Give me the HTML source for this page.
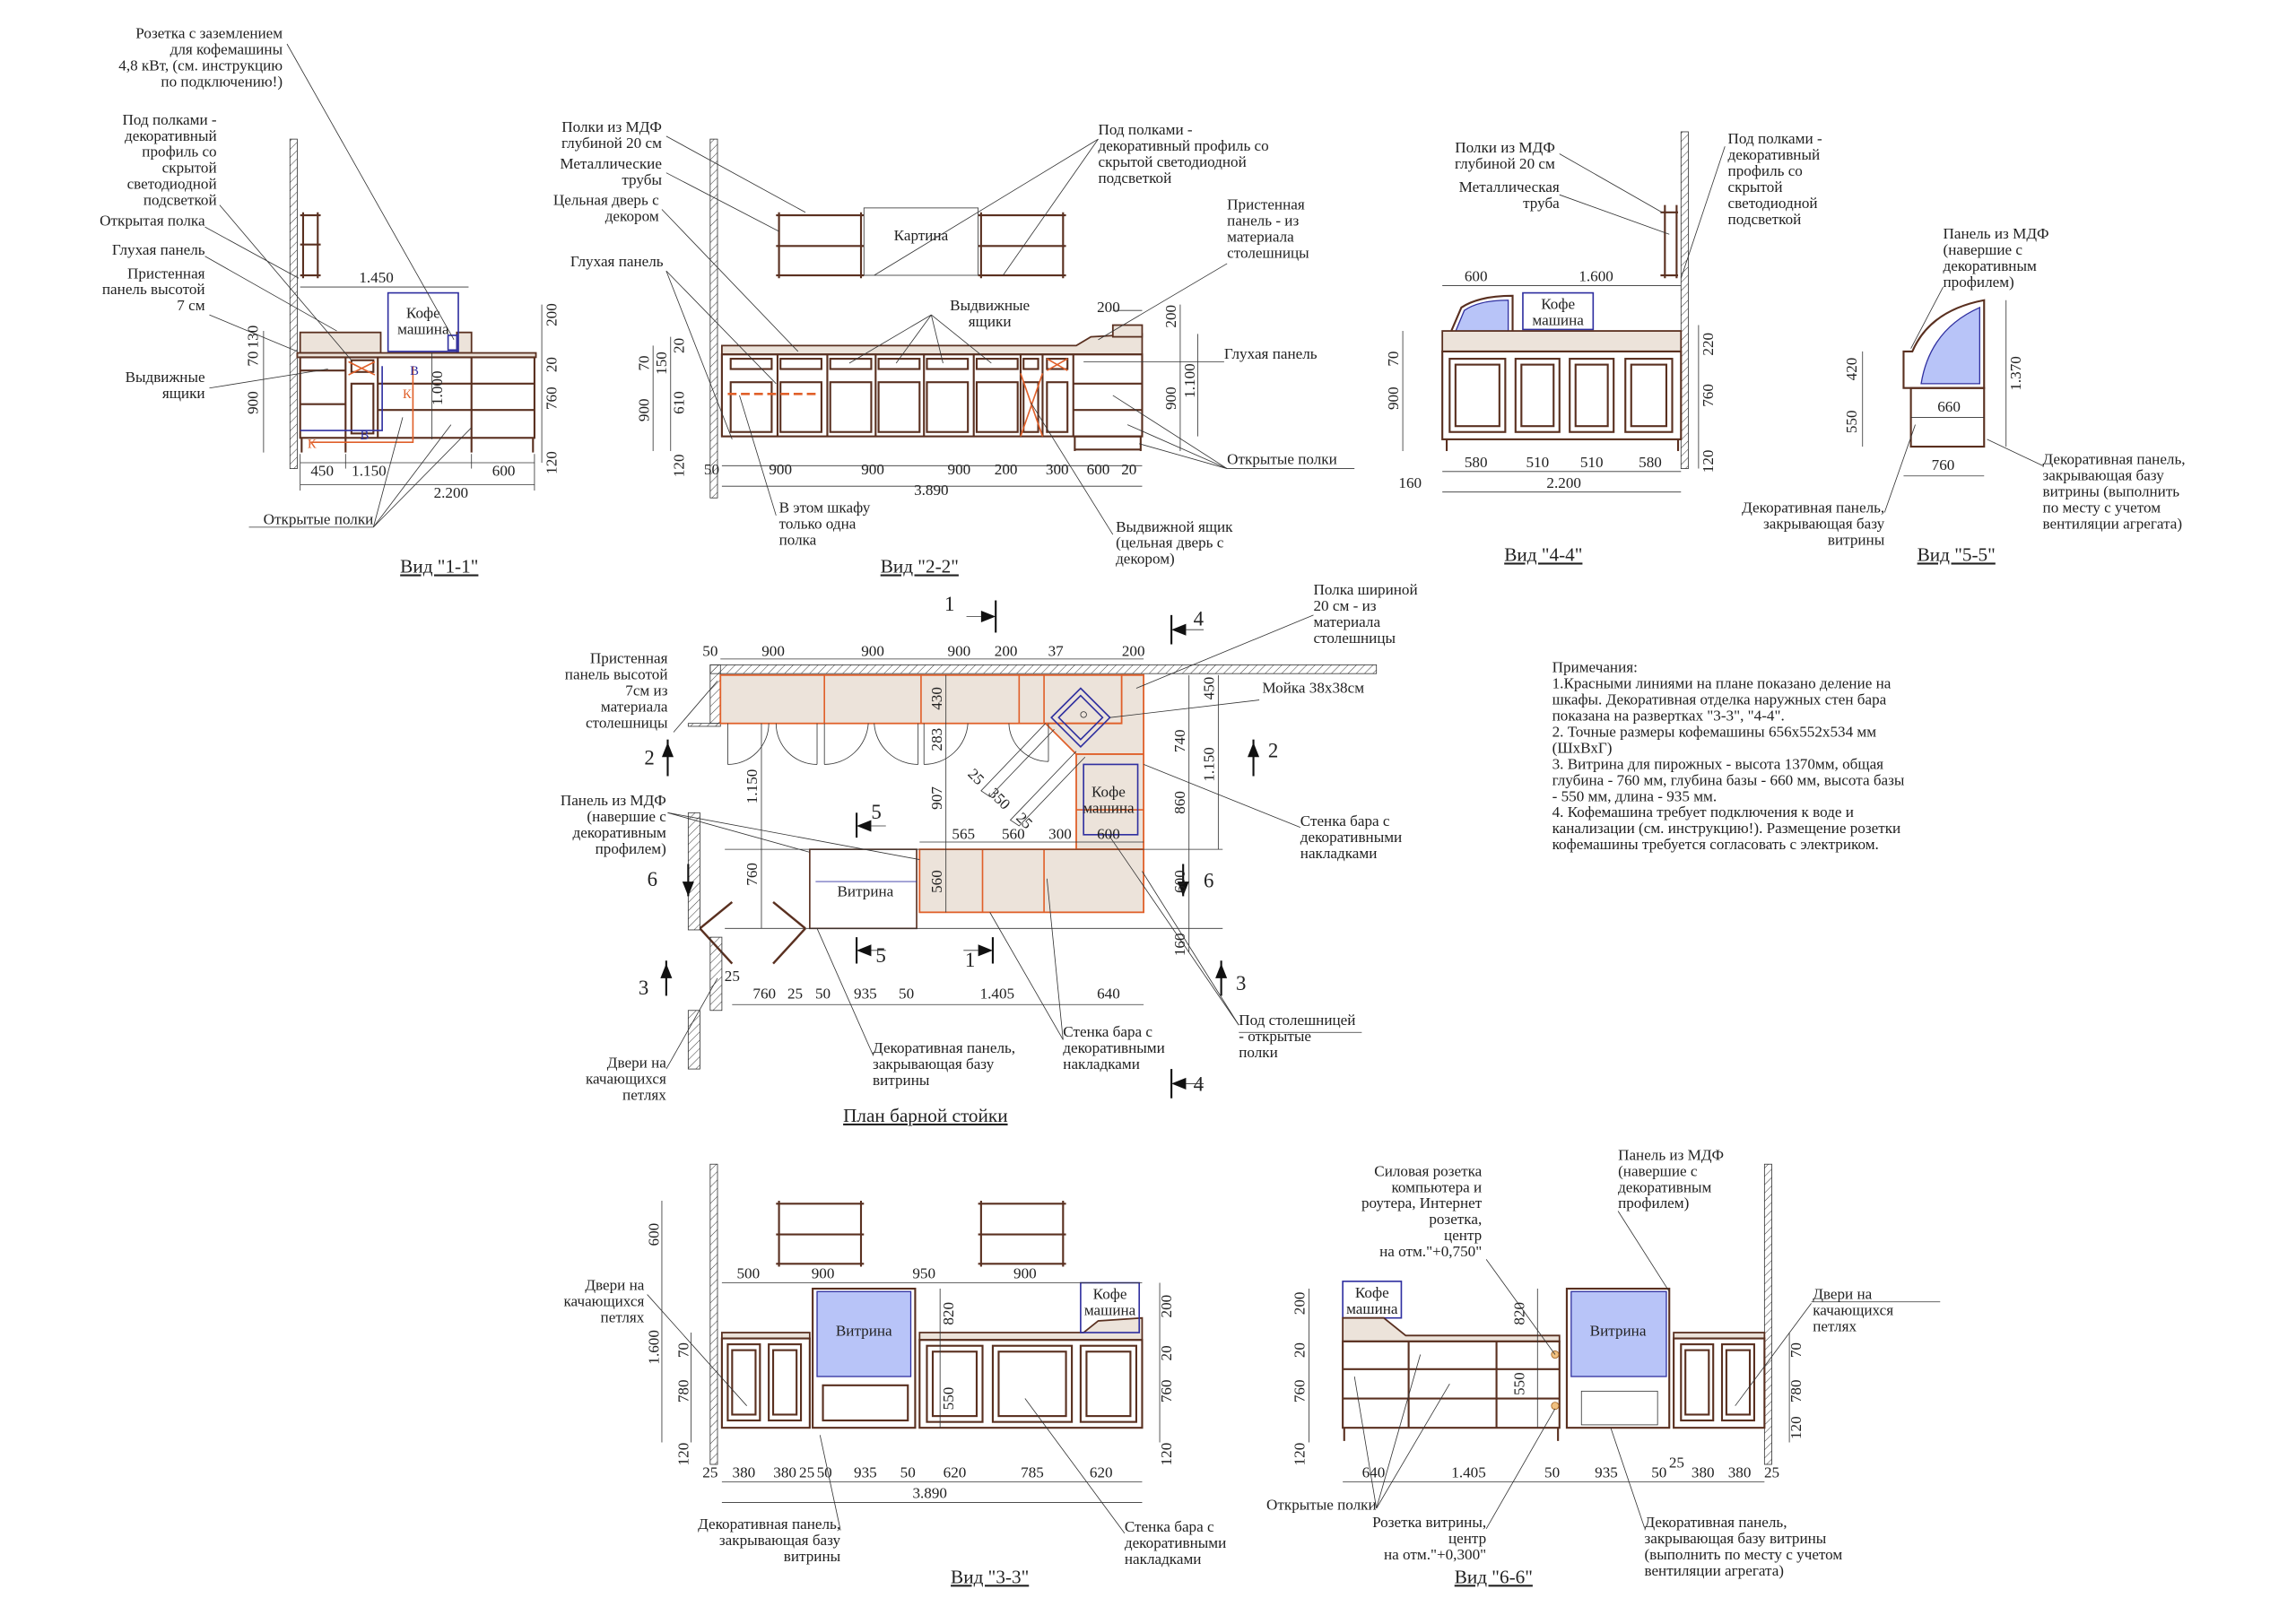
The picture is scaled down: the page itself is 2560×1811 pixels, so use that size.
<!DOCTYPE html>
<html><head><meta charset="utf-8"><style>
html,body{margin:0;padding:0;background:#fff}
svg{display:block}
text{font-family:"Liberation Serif",serif;font-size:10.5px;fill:#222}
.r{text-anchor:end}.m{text-anchor:middle}
.t{stroke:#333;stroke-width:.5;fill:none}
.b{stroke:#5a3020;stroke-width:1.3;fill:none}
.bf{stroke:#5a3020;stroke-width:1.1;fill:#ece3da}
.o{stroke:#e0602a;stroke-width:1;fill:none}
.bl{stroke:#3030a0;stroke-width:1;fill:none}
.gl{stroke:#3030a0;stroke-width:.8;fill:#b8c4f8}
.h{fill:url(#h);stroke:#333;stroke-width:.5}
.ttl{font-size:13px;text-decoration:underline}
</style></head><body>
<svg width="2560" height="1811" viewBox="0 0 1568 1109" preserveAspectRatio="none" xmlns="http://www.w3.org/2000/svg">
<defs><pattern id="h" width="4" height="4" patternUnits="userSpaceOnUse" patternTransform="rotate(45)"><line x1="0" y1="0" x2="0" y2="4" stroke="#333" stroke-width=".6"/></pattern></defs>
<rect width="1568" height="1109" fill="#fff"/>

<!-- ===== VIEW 1-1 ===== -->
<rect class="h" x="198" y="95" width="5" height="225"/>
<g class="b"><line x1="207" y1="145" x2="207" y2="190"/><line x1="217" y1="145" x2="217" y2="190"/><line x1="205" y1="147" x2="219" y2="147"/><line x1="205" y1="167" x2="219" y2="167"/><line x1="205" y1="188" x2="219" y2="188"/></g>
<rect class="bf" x="205" y="227" width="55" height="14"/>
<rect class="bf" x="312" y="227" width="10" height="14"/>
<rect class="bf" x="203" y="241" width="163" height="3"/>
<rect class="b" x="205" y="244" width="160" height="55"/>
<g class="b"><line x1="236" y1="244" x2="236" y2="299"/><line x1="258" y1="244" x2="258" y2="299"/><line x1="322" y1="244" x2="322" y2="299"/>
<line x1="205" y1="253" x2="236" y2="253"/><line x1="205" y1="276" x2="236" y2="276"/><line x1="258" y1="262" x2="365" y2="262"/><line x1="258" y1="280" x2="365" y2="280"/>
<rect x="240" y="262" width="15" height="34"/><rect x="240" y="246" width="15" height="8"/>
<line x1="206" y1="299" x2="206" y2="309"/><line x1="364" y1="299" x2="364" y2="309"/><line x1="236" y1="299" x2="236" y2="309"/><line x1="322" y1="299" x2="322" y2="309"/></g>
<rect class="bl" x="265" y="200" width="48" height="40"/>
<text class="m" x="289" y="217">Кофе</text><text class="m" x="289" y="228">машина</text>
<rect x="306" y="229" width="6" height="10" class="bl" stroke="#a030a0"/>
<g class="o"><polyline points="282,250 282,302 212,302"/><line x1="238" y1="247" x2="256" y2="256"/><line x1="256" y1="247" x2="238" y2="256"/></g>
<g class="bl"><polyline points="261,250 261,294 205,294"/></g>
<text x="280" y="256" style="fill:#3030a0;font-size:9px">В</text><text x="275" y="272" style="fill:#e0602a;font-size:9px">К</text><text x="246" y="300" style="fill:#3030a0;font-size:9px">В</text><text x="210" y="306" style="fill:#e0602a;font-size:9px">К</text>
<g class="t"><line x1="205" y1="196" x2="320" y2="196"/><line x1="205" y1="316" x2="365" y2="316"/><line x1="205" y1="331" x2="365" y2="331"/>
<line x1="205" y1="310" x2="205" y2="335"/><line x1="236" y1="310" x2="236" y2="320"/><line x1="322" y1="310" x2="322" y2="320"/><line x1="365" y1="310" x2="365" y2="335"/>
<line x1="180" y1="226" x2="180" y2="309"/><line x1="370" y1="208" x2="370" y2="316"/><line x1="295" y1="241" x2="295" y2="300"/>
<line x1="196" y1="30" x2="310" y2="232"/><line x1="150" y1="140" x2="240" y2="246"/><line x1="140" y1="155" x2="204" y2="190"/><line x1="140" y1="175" x2="230" y2="226"/><line x1="143" y1="215" x2="203" y2="240"/><line x1="143" y1="265" x2="224" y2="252"/>
<line x1="170" y1="360" x2="255" y2="360"/><line x1="255" y1="360" x2="275" y2="285"/><line x1="255" y1="360" x2="308" y2="290"/><line x1="255" y1="360" x2="322" y2="292"/></g>
<text class="m" x="257" y="193">1.450</text>
<text class="m" x="220" y="325">450</text><text class="m" x="252" y="325">1.150</text><text class="m" x="344" y="325">600</text><text class="m" x="308" y="340">2.200</text>
<g transform="rotate(-90)"><text class="m" x="-275" y="176">900</text><text class="m" x="-245" y="176">70</text><text class="m" x="-230" y="176">130</text>
<text class="m" x="-215" y="380">200</text><text class="m" x="-249" y="380">20</text><text class="m" x="-272" y="380">760</text><text class="m" x="-316" y="380">120</text><text class="m" x="-265" y="302">1.000</text></g>
<text class="r" x="193" y="26">Розетка с заземлением</text><text class="r" x="193" y="37">для кофемашины</text><text class="r" x="193" y="48">4,8 кВт, (см. инструкцию</text><text class="r" x="193" y="59">по подключению!)</text>
<text class="r" x="148" y="85">Под полками -</text><text class="r" x="148" y="96">декоративный</text><text class="r" x="148" y="107">профиль со</text><text class="r" x="148" y="118">скрытой</text><text class="r" x="148" y="129">светодиодной</text><text class="r" x="148" y="140">подсветкой</text>
<text class="r" x="140" y="154">Открытая полка</text><text class="r" x="140" y="174">Глухая панель</text>
<text class="r" x="140" y="190">Пристенная</text><text class="r" x="140" y="201">панель высотой</text><text class="r" x="140" y="212">7 см</text>
<text class="r" x="140" y="261">Выдвижные</text><text class="r" x="140" y="272">ящики</text>
<text class="r" x="255" y="358">Открытые полки</text>
<text class="m ttl" x="300" y="391">Вид "1-1"</text>

<!-- ===== VIEW 2-2 ===== -->
<rect class="h" x="485" y="95" width="5" height="245"/>
<g class="b"><line x1="532" y1="145" x2="532" y2="190"/><line x1="588" y1="145" x2="588" y2="190"/><line x1="530" y1="147" x2="590" y2="147"/><line x1="530" y1="168" x2="590" y2="168"/><line x1="530" y1="188" x2="590" y2="188"/>
<line x1="670" y1="145" x2="670" y2="190"/><line x1="726" y1="145" x2="726" y2="190"/><line x1="668" y1="147" x2="728" y2="147"/><line x1="668" y1="168" x2="728" y2="168"/><line x1="668" y1="188" x2="728" y2="188"/></g>
<rect class="t" x="590" y="142" width="78" height="46"/><text class="m" x="629" y="164">Картина</text>
<polygon class="bf" points="493,236 735,236 745,230 780,228 780,242 493,242"/>
<rect class="bf" x="760" y="222" width="20" height="8"/>
<rect class="b" x="493" y="242" width="287" height="56"/>
<g class="b">
<line x1="531" y1="242" x2="531" y2="298"/><line x1="565" y1="242" x2="565" y2="298"/><line x1="598" y1="242" x2="598" y2="298"/><line x1="631" y1="242" x2="631" y2="298"/><line x1="665" y1="242" x2="665" y2="298"/><line x1="697" y1="242" x2="697" y2="298"/><line x1="712" y1="242" x2="712" y2="298"/><line x1="733" y1="242" x2="733" y2="298"/>
<rect x="499" y="245" width="28" height="7"/><rect x="533" y="245" width="28" height="7"/><rect x="567" y="245" width="28" height="7"/><rect x="600" y="245" width="28" height="7"/><rect x="633" y="245" width="28" height="7"/><rect x="667" y="245" width="28" height="7"/><rect x="699" y="245" width="10" height="7"/><rect x="715" y="245" width="14" height="7"/>
<rect x="499" y="261" width="28" height="34"/><rect x="533" y="261" width="28" height="34"/><rect x="567" y="261" width="28" height="34"/><rect x="600" y="261" width="28" height="34"/><rect x="633" y="261" width="28" height="34"/><rect x="667" y="261" width="28" height="34"/><rect x="699" y="261" width="10" height="34"/><rect x="715" y="261" width="14" height="34"/>
<line x1="733" y1="262" x2="780" y2="262"/><line x1="733" y1="280" x2="780" y2="280"/><line x1="733" y1="298" x2="780" y2="298"/>
<line x1="734" y1="298" x2="734" y2="308"/><line x1="779" y1="298" x2="779" y2="308"/><line x1="734" y1="307" x2="779" y2="307"/></g>
<g class="o"><line x1="497" y1="269" x2="558" y2="269" stroke-dasharray="6,3" stroke-width="1.6"/><line x1="697" y1="255" x2="712" y2="298"/><line x1="712" y1="255" x2="697" y2="298"/><line x1="715" y1="245" x2="729" y2="253"/><line x1="729" y1="245" x2="715" y2="253"/></g>
<g class="t"><line x1="493" y1="318" x2="780" y2="318"/><line x1="493" y1="332" x2="780" y2="332"/><line x1="446" y1="236" x2="446" y2="308"/><line x1="458" y1="230" x2="458" y2="308"/><line x1="806" y1="208" x2="806" y2="308"/><line x1="818" y1="228" x2="818" y2="298"/><line x1="760" y1="212" x2="780" y2="212"/>
<line x1="455" y1="93" x2="550" y2="145"/><line x1="455" y1="118" x2="532" y2="158"/><line x1="452" y1="143" x2="545" y2="240"/><line x1="455" y1="185" x2="500" y2="300"/><line x1="455" y1="185" x2="530" y2="262"/>
<line x1="750" y1="95" x2="597" y2="188"/><line x1="750" y1="95" x2="685" y2="188"/><line x1="838" y1="180" x2="750" y2="232"/><line x1="836" y1="247" x2="740" y2="247"/>
<line x1="636" y1="215" x2="580" y2="248"/><line x1="636" y1="215" x2="612" y2="248"/><line x1="636" y1="215" x2="644" y2="248"/><line x1="636" y1="215" x2="677" y2="248"/>
<line x1="838" y1="320" x2="925" y2="320"/><line x1="838" y1="320" x2="760" y2="270"/><line x1="838" y1="320" x2="770" y2="290"/><line x1="838" y1="320" x2="778" y2="303"/>
<line x1="530" y1="352" x2="505" y2="270"/><line x1="760" y1="365" x2="704" y2="275"/></g>
<text class="m" x="486" y="324">50</text><text class="m" x="533" y="324">900</text><text class="m" x="596" y="324">900</text><text class="m" x="655" y="324">900</text><text class="m" x="687" y="324">200</text><text class="m" x="722" y="324">300</text><text class="m" x="750" y="324">600</text><text class="m" x="771" y="324">20</text><text class="m" x="636" y="338">3.890</text>
<text class="m" x="757" y="213">200</text>
<g transform="rotate(-90)"><text class="m" x="-248" y="443">70</text><text class="m" x="-248" y="455">150</text><text class="m" x="-236" y="467">20</text><text class="m" x="-275" y="467">610</text><text class="m" x="-280" y="443">900</text><text class="m" x="-318" y="467">120</text>
<text class="m" x="-216" y="803">200</text><text class="m" x="-272" y="803">900</text><text class="m" x="-260" y="816">1.100</text></g>
<text class="r" x="452" y="90">Полки из МДФ</text><text class="r" x="452" y="101">глубиной 20 см</text><text class="r" x="452" y="115">Металлические</text><text class="r" x="452" y="126">трубы</text>
<text class="r" x="450" y="140">Цельная дверь с</text><text class="r" x="450" y="151">декором</text><text class="r" x="453" y="182">Глухая панель</text>
<text x="750" y="92">Под полками -</text><text x="750" y="103">декоративный профиль со</text><text x="750" y="114">скрытой светодиодной</text><text x="750" y="125">подсветкой</text>
<text x="838" y="143">Пристенная</text><text x="838" y="154">панель - из</text><text x="838" y="165">материала</text><text x="838" y="176">столешницы</text>
<text class="m" x="676" y="212">Выдвижные</text><text class="m" x="676" y="223">ящики</text>
<text x="836" y="245">Глухая панель</text><text x="838" y="317">Открытые полки</text>
<text x="532" y="350">В этом шкафу</text><text x="532" y="361">только одна</text><text x="532" y="372">полка</text>
<text x="762" y="363">Выдвижной ящик</text><text x="762" y="374">(цельная дверь с</text><text x="762" y="385">декором)</text>
<text class="m ttl" x="628" y="391">Вид "2-2"</text>

<!-- ===== VIEW 4-4 ===== -->
<rect class="h" x="1148" y="90" width="5" height="230"/>
<g class="b"><line x1="1137" y1="140" x2="1137" y2="190"/><line x1="1145" y1="140" x2="1145" y2="190"/><line x1="1134" y1="145" x2="1146" y2="145"/><line x1="1134" y1="188" x2="1146" y2="188"/></g>
<path class="gl" d="M990,236 L1000,212 Q1010,205 1030,205 L1030,236 Z"/>
<path class="b" d="M986,238 L998,210 Q1010,202 1033,202 L1033,238"/>
<rect class="bl" x="1040" y="200" width="48" height="25"/><text class="m" x="1064" y="211">Кофе</text><text class="m" x="1064" y="222">машина</text>
<rect class="bf" x="985" y="226" width="163" height="14"/>
<rect class="b" x="985" y="240" width="163" height="60"/>
<g class="b"><rect x="990" y="245" width="38" height="50"/><rect x="994" y="249" width="30" height="42"/><rect x="1035" y="245" width="30" height="50"/><rect x="1039" y="249" width="22" height="42"/><rect x="1072" y="245" width="30" height="50"/><rect x="1076" y="249" width="22" height="42"/><rect x="1110" y="245" width="32" height="50"/><rect x="1114" y="249" width="24" height="42"/><line x1="988" y1="300" x2="988" y2="308"/><line x1="1146" y1="300" x2="1146" y2="308"/></g>
<g class="t"><line x1="985" y1="195" x2="1148" y2="195"/><line x1="985" y1="322" x2="1148" y2="322"/><line x1="985" y1="336" x2="1148" y2="336"/><line x1="958" y1="226" x2="958" y2="308"/><line x1="1160" y1="222" x2="1160" y2="320"/>
<line x1="1065" y1="105" x2="1135" y2="145"/><line x1="1065" y1="133" x2="1140" y2="160"/><line x1="1178" y1="100" x2="1148" y2="190"/></g>
<text class="m" x="1008" y="192">600</text><text class="m" x="1090" y="192">1.600</text>
<text class="m" x="1008" y="319">580</text><text class="m" x="1050" y="319">510</text><text class="m" x="1087" y="319">510</text><text class="m" x="1127" y="319">580</text><text class="m" x="1068" y="333">2.200</text><text class="m" x="963" y="333">160</text>
<g transform="rotate(-90)"><text class="m" x="-245" y="955">70</text><text class="m" x="-272" y="955">900</text><text class="m" x="-235" y="1170">220</text><text class="m" x="-270" y="1170">760</text><text class="m" x="-315" y="1170">120</text></g>
<text class="r" x="1062" y="104">Полки из МДФ</text><text class="r" x="1062" y="115">глубиной 20 см</text><text class="r" x="1065" y="131">Металлическая</text><text class="r" x="1065" y="142">труба</text>
<text x="1180" y="98">Под полками -</text><text x="1180" y="109">декоративный</text><text x="1180" y="120">профиль со</text><text x="1180" y="131">скрытой</text><text x="1180" y="142">светодиодной</text><text x="1180" y="153">подсветкой</text>
<text class="m ttl" x="1054" y="383">Вид "4-4"</text>

<!-- ===== VIEW 5-5 ===== -->
<path class="gl" d="M1312,262 Q1318,225 1352,210 L1352,262 Z"/>
<path class="b" d="M1300,240 L1306,240 Q1318,212 1355,205 L1355,265 L1300,265 Z"/>
<rect class="b" x="1305" y="265" width="50" height="40"/>
<g class="t"><line x1="1272" y1="240" x2="1272" y2="305"/><line x1="1370" y1="205" x2="1370" y2="305"/><line x1="1305" y1="285" x2="1355" y2="285"/><line x1="1300" y1="325" x2="1355" y2="325"/><line x1="1327" y1="196" x2="1305" y2="238"/><line x1="1395" y1="318" x2="1357" y2="300"/><line x1="1287" y1="350" x2="1308" y2="290"/></g>
<text class="m" x="1331" y="281">660</text><text class="m" x="1327" y="321">760</text>
<g transform="rotate(-90)"><text class="m" x="-252" y="1268">420</text><text class="m" x="-288" y="1268">550</text><text class="m" x="-255" y="1380">1.370</text></g>
<text x="1327" y="163">Панель из МДФ</text><text x="1327" y="174">(навершие с</text><text x="1327" y="185">декоративным</text><text x="1327" y="196">профилем)</text>
<text x="1395" y="317">Декоративная панель,</text><text x="1395" y="328">закрывающая базу</text><text x="1395" y="339">витрины (выполнить</text><text x="1395" y="350">по месту с учетом</text><text x="1395" y="361">вентиляции агрегата)</text>
<text class="r" x="1287" y="350">Декоративная панель,</text><text class="r" x="1287" y="361">закрывающая базу</text><text class="r" x="1287" y="372">витрины</text>
<text class="m ttl" x="1336" y="383">Вид "5-5"</text>

<!-- ===== PLAN ===== -->
<rect class="h" x="485" y="454" width="455" height="6"/>
<rect class="h" x="485" y="454" width="7" height="40"/>
<rect class="h" x="470" y="494" width="22" height="2"/>
<rect class="bf" x="492" y="461" width="289" height="33" style="stroke:#e0602a"/>
<polygon class="bf" points="714,494 766,494 766,461 781,461 781,515 735,515" style="stroke:#e0602a"/>
<rect class="bf" x="735" y="515" width="46" height="65" style="stroke:#e0602a"/>
<rect class="bf" x="628" y="580" width="153" height="43" style="stroke:#e0602a"/>
<g class="o"><line x1="563" y1="461" x2="563" y2="494"/><line x1="629" y1="461" x2="629" y2="494"/><line x1="696" y1="461" x2="696" y2="494"/><line x1="713" y1="461" x2="713" y2="494"/><line x1="671" y1="580" x2="671" y2="623"/><line x1="713" y1="580" x2="713" y2="623"/><line x1="735" y1="553" x2="781" y2="553"/></g>
<rect class="bl" x="740" y="522" width="37" height="48"/>
<polygon class="bl" points="738,470 758,490 738,510 718,490"/><polygon class="bl" points="738,475 753,490 738,505 723,490"/>
<circle cx="740" cy="488" r="2" class="t"/>
<rect class="b" x="553" y="580" width="73" height="54" style="stroke-width:1"/>
<line x1="557" y1="602" x2="626" y2="602" class="bl" style="stroke-width:.6"/>
<text class="m" x="591" y="612">Витрина</text>
<text class="m" x="757" y="544">Кофе</text><text class="m" x="757" y="555">машина</text>
<g class="t">
<path d="M497,494 L497,522 M497,522 A28,28 0 0 0 525,494"/><path d="M558,494 L558,522 M558,522 A28,28 0 0 1 530,494"/>
<path d="M563,494 L563,522 M563,522 A30,30 0 0 0 593,494"/><path d="M627,494 L627,522 M627,522 A30,30 0 0 1 597,494"/>
<path d="M631,494 L631,522 M631,522 A30,30 0 0 0 661,494"/><path d="M716,494 L716,520 M716,520 A27,27 0 0 1 689,494"/>
<path d="M714,494 L670,540 L676,544 L720,498"/><path d="M735,513 L690,560 L696,564 L741,517"/>
<line x1="492" y1="450" x2="781" y2="450"/><line x1="628" y1="575" x2="781" y2="575"/><line x1="520" y1="494" x2="520" y2="580"/><line x1="520" y1="580" x2="520" y2="634"/>
<line x1="646" y1="461" x2="646" y2="623"/><line x1="812" y1="461" x2="812" y2="650"/><line x1="832" y1="461" x2="832" y2="580"/>
<line x1="500" y1="686" x2="781" y2="686"/><line x1="495" y1="580" x2="835" y2="580"/><line x1="495" y1="634" x2="835" y2="634"/>
<line x1="460" y1="500" x2="490" y2="465"/><line x1="897" y1="420" x2="776" y2="470"/><line x1="860" y1="478" x2="758" y2="490"/><line x1="888" y1="565" x2="781" y2="522"/><line x1="456" y1="555" x2="553" y2="582"/><line x1="456" y1="555" x2="628" y2="587"/>
<line x1="846" y1="700" x2="780" y2="595"/><line x1="846" y1="700" x2="757" y2="570"/><line x1="596" y1="720" x2="558" y2="634"/><line x1="726" y1="710" x2="676" y2="623"/><line x1="726" y1="710" x2="715" y2="600"/><line x1="846" y1="705" x2="930" y2="705"/>
<line x1="455" y1="730" x2="490" y2="668"/></g>
<g class="b" style="stroke-width:1.5"><line x1="478" y1="634" x2="500" y2="658"/><line x1="478" y1="634" x2="500" y2="616"/><line x1="550" y1="634" x2="528" y2="616"/><line x1="550" y1="634" x2="528" y2="658"/></g>
<rect class="h" x="470" y="555" width="8" height="80"/><rect class="h" x="485" y="640" width="8" height="50"/><rect class="h" x="470" y="690" width="8" height="40"/>
<g><text x="645" y="417" style="font-size:14px">1</text><text x="815" y="427" style="font-size:14px">4</text><text x="440" y="522" style="font-size:14px">2</text><text x="866" y="517" style="font-size:14px">2</text><text x="595" y="559" style="font-size:14px">5</text><text x="598" y="657" style="font-size:14px">5</text><text x="442" y="605" style="font-size:14px">6</text><text x="822" y="606" style="font-size:14px">6</text><text x="436" y="679" style="font-size:14px">3</text><text x="844" y="676" style="font-size:14px">3</text><text x="659" y="660" style="font-size:14px">1</text><text x="815" y="745" style="font-size:14px">4</text></g>
<g class="b" style="stroke:#111"><line x1="680" y1="410" x2="680" y2="432"/><line x1="800" y1="420" x2="800" y2="440"/><line x1="456" y1="505" x2="456" y2="530"/><line x1="856" y1="505" x2="856" y2="530"/><line x1="585" y1="555" x2="585" y2="572"/><line x1="585" y1="640" x2="585" y2="658"/><line x1="470" y1="590" x2="470" y2="612"/><line x1="808" y1="590" x2="808" y2="612"/><line x1="455" y1="656" x2="455" y2="680"/><line x1="834" y1="656" x2="834" y2="680"/><line x1="678" y1="640" x2="678" y2="658"/><line x1="800" y1="730" x2="800" y2="750"/></g>
<g fill="#111" stroke="none">
<polygon points="680,421 670,417 670,425"/><polygon points="800,430 810,426 810,434"/>
<polygon points="456,507 452,517 460,517"/><polygon points="856,507 852,517 860,517"/>
<polygon points="585,564 595,560 595,568"/><polygon points="585,649 595,645 595,653"/>
<polygon points="470,612 466,602 474,602"/><polygon points="808,612 804,602 812,602"/>
<polygon points="455,658 451,668 459,668"/><polygon points="834,658 830,668 838,668"/>
<polygon points="678,649 668,645 668,653"/><polygon points="800,740 810,736 810,744"/>
</g>
<g class="t"><line x1="660" y1="421" x2="670" y2="421"/><line x1="810" y1="430" x2="822" y2="430"/><line x1="595" y1="564" x2="605" y2="564"/><line x1="595" y1="649" x2="605" y2="649"/><line x1="658" y1="649" x2="668" y2="649"/><line x1="810" y1="740" x2="822" y2="740"/></g>
<text class="m" x="485" y="448">50</text><text class="m" x="528" y="448">900</text><text class="m" x="596" y="448">900</text><text class="m" x="655" y="448">900</text><text class="m" x="687" y="448">200</text><text class="m" x="721" y="448">37</text><text class="m" x="774" y="448">200</text>
<text class="m" x="658" y="573">565</text><text class="m" x="692" y="573">560</text><text class="m" x="724" y="573">300</text><text class="m" x="757" y="573">600</text>
<text class="m" x="522" y="682">760</text><text class="m" x="543" y="682">25</text><text class="m" x="562" y="682">50</text><text class="m" x="591" y="682">935</text><text class="m" x="619" y="682">50</text><text class="m" x="681" y="682">1.405</text><text class="m" x="757" y="682">640</text><text class="m" x="500" y="670">25</text>
<g transform="rotate(-90)"><text class="m" x="-537" y="517">1.150</text><text class="m" x="-477" y="643">430</text><text class="m" x="-505" y="643">283</text><text class="m" x="-545" y="643">907</text><text class="m" x="-602" y="643">560</text><text class="m" x="-597" y="517">760</text>
<text class="m" x="-470" y="829">450</text><text class="m" x="-506" y="809">740</text><text class="m" x="-522" y="829">1.150</text><text class="m" x="-548" y="809">860</text><text class="m" x="-602" y="809">600</text><text class="m" x="-645" y="809">160</text></g>
<g transform="rotate(45 667 530)"><text class="m" x="667" y="534">25</text></g><g transform="rotate(45 683 545)"><text class="m" x="683" y="549">350</text></g><g transform="rotate(45 700 560)"><text class="m" x="700" y="564">25</text></g>
<text class="r" x="456" y="453">Пристенная</text><text class="r" x="456" y="464">панель высотой</text><text class="r" x="456" y="475">7см из</text><text class="r" x="456" y="486">материала</text><text class="r" x="456" y="497">столешницы</text>
<text class="r" x="455" y="550">Панель из МДФ</text><text class="r" x="455" y="561">(навершие с</text><text class="r" x="455" y="572">декоративным</text><text class="r" x="455" y="583">профилем)</text>
<text class="r" x="455" y="729">Двери на</text><text class="r" x="455" y="740">качающихся</text><text class="r" x="455" y="751">петлях</text>
<text x="897" y="406">Полка шириной</text><text x="897" y="417">20 см - из</text><text x="897" y="428">материала</text><text x="897" y="439">столешницы</text>
<text x="862" y="473">Мойка 38х38см</text>
<text x="888" y="564">Стенка бара с</text><text x="888" y="575">декоративными</text><text x="888" y="586">накладками</text>
<text x="846" y="700">Под столешницей</text><text x="846" y="711">- открытые</text><text x="846" y="722">полки</text>
<text x="596" y="719">Декоративная панель,</text><text x="596" y="730">закрывающая базу</text><text x="596" y="741">витрины</text>
<text x="726" y="708">Стенка бара с</text><text x="726" y="719">декоративными</text><text x="726" y="730">накладками</text>
<text class="m ttl" x="632" y="766">План барной стойки</text>

<!-- NOTES -->
<text x="1060" y="459">Примечания:</text>
<text x="1060" y="470">1.Красными линиями на плане показано деление на</text>
<text x="1060" y="481">шкафы. Декоративная отделка наружных стен бара</text>
<text x="1060" y="492">показана на развертках "3-3", "4-4".</text>
<text x="1060" y="503">2. Точные размеры кофемашины 656х552х534 мм</text>
<text x="1060" y="514">(ШхВхГ)</text>
<text x="1060" y="525">3. Витрина для пирожных  - высота 1370мм, общая</text>
<text x="1060" y="536">глубина - 760 мм, глубина базы  - 660 мм, высота базы</text>
<text x="1060" y="547">- 550 мм, длина  - 935 мм.</text>
<text x="1060" y="558">4. Кофемашина требует подключения к воде и</text>
<text x="1060" y="569">канализации (см. инструкцию!). Размещение розетки</text>
<text x="1060" y="580">кофемашины требуется согласовать с электриком.</text>

<!-- ===== VIEW 3-3 ===== -->
<rect class="h" x="485" y="795" width="5" height="205"/>
<g class="b"><line x1="532" y1="820" x2="532" y2="865"/><line x1="588" y1="820" x2="588" y2="865"/><line x1="530" y1="822" x2="590" y2="822"/><line x1="530" y1="843" x2="590" y2="843"/><line x1="530" y1="863" x2="590" y2="863"/>
<line x1="670" y1="820" x2="670" y2="865"/><line x1="726" y1="820" x2="726" y2="865"/><line x1="668" y1="822" x2="728" y2="822"/><line x1="668" y1="843" x2="728" y2="843"/><line x1="668" y1="863" x2="728" y2="863"/></g>
<rect class="bf" x="493" y="910" width="60" height="4"/><rect class="b" x="493" y="914" width="60" height="61"/>
<g class="b"><rect x="497" y="918" width="22" height="52"/><rect x="500" y="922" width="16" height="44"/><rect x="525" y="918" width="22" height="52"/><rect x="528" y="922" width="16" height="44"/></g>
<rect class="b" x="555" y="880" width="70" height="95"/><rect class="gl" x="558" y="882" width="64" height="58"/><text class="m" x="590" y="912">Витрина</text>
<rect class="b" x="562" y="946" width="58" height="24"/>
<polygon class="bf" points="628,910 740,910 750,902 780,900 780,915 628,915"/>
<rect class="b" x="628" y="915" width="152" height="60"/>
<g class="b"><rect x="633" y="919" width="38" height="52"/><rect x="637" y="923" width="30" height="44"/><rect x="678" y="919" width="54" height="52"/><rect x="682" y="923" width="46" height="44"/><rect x="738" y="919" width="38" height="52"/><rect x="742" y="923" width="30" height="44"/></g>
<rect class="bl" x="738" y="876" width="40" height="34"/><text class="m" x="758" y="887">Кофе</text><text class="m" x="758" y="898">машина</text>
<g class="t"><line x1="493" y1="876" x2="780" y2="876"/><line x1="493" y1="1012" x2="780" y2="1012"/><line x1="493" y1="1026" x2="780" y2="1026"/><line x1="452" y1="820" x2="452" y2="985"/><line x1="472" y1="910" x2="472" y2="985"/><line x1="792" y1="876" x2="792" y2="985"/><line x1="642" y1="880" x2="642" y2="975"/>
<line x1="442" y1="884" x2="510" y2="960"/><line x1="574" y1="1045" x2="560" y2="980"/><line x1="768" y1="1047" x2="700" y2="955"/></g>
<text class="m" x="511" y="873">500</text><text class="m" x="562" y="873">900</text><text class="m" x="631" y="873">950</text><text class="m" x="700" y="873">900</text>
<text class="m" x="485" y="1009">25</text><text class="m" x="508" y="1009">380</text><text class="m" x="536" y="1009">380</text><text class="m" x="551" y="1009">25</text><text class="m" x="563" y="1009">50</text><text class="m" x="591" y="1009">935</text><text class="m" x="620" y="1009">50</text><text class="m" x="652" y="1009">620</text><text class="m" x="705" y="1009">785</text><text class="m" x="752" y="1009">620</text><text class="m" x="635" y="1023">3.890</text>
<g transform="rotate(-90)"><text class="m" x="-843" y="450">600</text><text class="m" x="-920" y="450">1.600</text><text class="m" x="-922" y="470">70</text><text class="m" x="-950" y="470">780</text><text class="m" x="-993" y="470">120</text>
<text class="m" x="-892" y="800">200</text><text class="m" x="-924" y="800">20</text><text class="m" x="-950" y="800">760</text><text class="m" x="-993" y="800">120</text><text class="m" x="-897" y="651">820</text><text class="m" x="-955" y="651">550</text></g>
<text class="r" x="440" y="881">Двери на</text><text class="r" x="440" y="892">качающихся</text><text class="r" x="440" y="903">петлях</text>
<text class="r" x="574" y="1044">Декоративная панель,</text><text class="r" x="574" y="1055">закрывающая базу</text><text class="r" x="574" y="1066">витрины</text>
<text x="768" y="1046">Стенка бара с</text><text x="768" y="1057">декоративными</text><text x="768" y="1068">накладками</text>
<text class="m ttl" x="676" y="1081">Вид "3-3"</text>

<!-- ===== VIEW 6-6 ===== -->
<rect class="h" x="1205" y="795" width="5" height="205"/>
<rect class="bl" x="917" y="875" width="40" height="25"/><text class="m" x="937" y="886">Кофе</text><text class="m" x="937" y="897">машина</text>
<polygon class="bf" points="917,900 945,900 960,912 1065,912 1065,916 917,916"/>
<rect class="b" x="917" y="916" width="148" height="59"/>
<g class="b"><line x1="962" y1="916" x2="962" y2="975"/><line x1="1022" y1="916" x2="1022" y2="975"/><line x1="917" y1="935" x2="962" y2="935"/><line x1="917" y1="955" x2="962" y2="955"/><line x1="962" y1="935" x2="1065" y2="935"/><line x1="962" y1="955" x2="1065" y2="955"/><line x1="918" y1="975" x2="918" y2="984"/><line x1="1064" y1="975" x2="1064" y2="984"/></g>
<rect class="b" x="1070" y="880" width="70" height="95"/><rect class="gl" x="1073" y="882" width="65" height="58"/><text class="m" x="1105" y="912">Витрина</text>
<rect class="t" x="1080" y="950" width="52" height="23"/>
<rect class="bf" x="1143" y="910" width="62" height="4"/><rect class="b" x="1143" y="914" width="62" height="61"/>
<g class="b"><rect x="1148" y="918" width="22" height="52"/><rect x="1151" y="922" width="16" height="44"/><rect x="1176" y="918" width="22" height="52"/><rect x="1179" y="922" width="16" height="44"/></g>
<circle cx="1062" cy="925" r="2.5" fill="#f0c080" stroke="#a06020" stroke-width=".5"/><circle cx="1062" cy="960" r="2.5" fill="#f0c080" stroke="#a06020" stroke-width=".5"/>
<g class="t"><line x1="917" y1="1012" x2="1205" y2="1012"/><line x1="894" y1="880" x2="894" y2="985"/><line x1="1222" y1="910" x2="1222" y2="985"/><line x1="1050" y1="880" x2="1050" y2="975"/>
<line x1="1015" y1="860" x2="1062" y2="925"/><line x1="1105" y1="827" x2="1140" y2="882"/><line x1="1237" y1="890" x2="1185" y2="960"/><line x1="1237" y1="889" x2="1325" y2="889"/>
<line x1="940" y1="1030" x2="925" y2="940"/><line x1="940" y1="1030" x2="970" y2="925"/><line x1="940" y1="1030" x2="990" y2="945"/><line x1="1015" y1="1044" x2="1062" y2="962"/><line x1="1123" y1="1043" x2="1100" y2="975"/></g>
<text class="m" x="938" y="1009">640</text><text class="m" x="1003" y="1009">1.405</text><text class="m" x="1060" y="1009">50</text><text class="m" x="1097" y="1009">935</text><text class="m" x="1133" y="1009">50</text><text class="m" x="1145" y="1002">25</text><text class="m" x="1163" y="1009">380</text><text class="m" x="1188" y="1009">380</text><text class="m" x="1210" y="1009">25</text>
<g transform="rotate(-90)"><text class="m" x="-890" y="891">200</text><text class="m" x="-922" y="891">20</text><text class="m" x="-950" y="891">760</text><text class="m" x="-993" y="891">120</text><text class="m" x="-897" y="1041">820</text><text class="m" x="-945" y="1041">550</text>
<text class="m" x="-922" y="1230">70</text><text class="m" x="-950" y="1230">780</text><text class="m" x="-975" y="1230">120</text></g>
<text class="r" x="1012" y="803">Силовая розетка</text><text class="r" x="1012" y="814">компьютера и</text><text class="r" x="1012" y="825">роутера, Интернет</text><text class="r" x="1012" y="836">розетка,</text><text class="r" x="1012" y="847">центр</text><text class="r" x="1012" y="858">на отм."+0,750"</text>
<text x="1105" y="792">Панель из МДФ</text><text x="1105" y="803">(навершие с</text><text x="1105" y="814">декоративным</text><text x="1105" y="825">профилем)</text>
<text x="1238" y="887">Двери на</text><text x="1238" y="898">качающихся</text><text x="1238" y="909">петлях</text>
<text class="r" x="940" y="1031">Открытые полки</text>
<text class="r" x="1015" y="1043">Розетка витрины,</text><text class="r" x="1015" y="1054">центр</text><text class="r" x="1015" y="1065">на отм."+0,300"</text>
<text x="1123" y="1043">Декоративная панель,</text><text x="1123" y="1054">закрывающая базу витрины</text><text x="1123" y="1065">(выполнить по месту с учетом</text><text x="1123" y="1076">вентиляции агрегата)</text>
<text class="m ttl" x="1020" y="1081">Вид "6-6"</text>
</svg>
</body></html>
